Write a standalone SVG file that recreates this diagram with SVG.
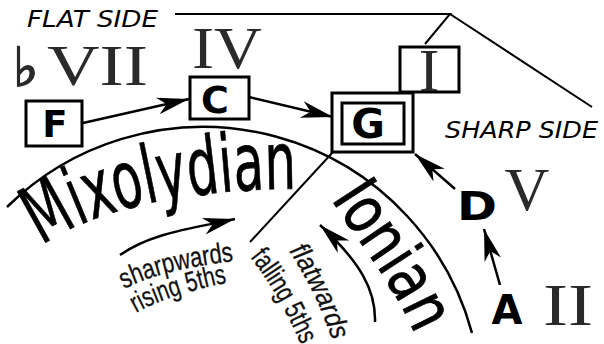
<svg xmlns="http://www.w3.org/2000/svg" width="604" height="344" viewBox="0 0 604 344">
<style>
.bx{fill:#fff;stroke:#000;stroke-width:3}
.ln{fill:none;stroke:#000;stroke-width:2.5}
.thin{fill:none;stroke:#000;stroke-width:2}
.arr{fill:none;stroke:#000;stroke-width:2.5;marker-end:url(#ah)}
.key{font-family:"DejaVu Sans",Verdana,sans-serif;font-weight:bold;fill:#000}
.rom{font-family:"Liberation Serif","Times New Roman",serif;fill:#2a2a2a}
.side{font-family:"DejaVu Sans","Liberation Sans",sans-serif;font-style:italic;font-size:23px;fill:#000}
.mode{font-family:"DejaVu Sans",sans-serif;fill:#000;stroke:#000;stroke-width:0.8}
.small{font-family:"Liberation Sans",Arial,sans-serif;font-size:28px;fill:#111;stroke:#111;stroke-width:0.3}
</style>
<defs>
<marker id="ah" viewBox="-34 -10 36 20" refX="0" refY="0" markerWidth="36" markerHeight="20" markerUnits="userSpaceOnUse" orient="auto">
<path d="M0,0 L-32,-8.5 L-23,0 L-32,8.5 Z" fill="#000"/>
</marker>
<path id="pMixo" d="M42,246 C106,200 222,188 304,189"/>
<path id="pIon" d="M331,199 C358,242 404,297 421,352"/>
<path id="pSharp" d="M124,289 C160,271 198,266 240,260"/>
<path id="pRise" d="M136,313 C162,298 200,288 231,282"/>
<path id="pFlat" d="M289,251 C309,281 324,313 336,352"/>
<path id="pFall" d="M250,257 C272,285 288,314 305,354"/>
</defs>
<rect width="604" height="344" fill="#fff"/>

<g id="connectors">
<path class="ln" d="M7,207 A279,279 0 0 1 472,333"/>
<path class="thin" d="M175,14 L450,14 L425,44 M450,14 L592,107"/>
<path class="thin" d="M333,152 L250,242"/>
<path class="arr" d="M83,123 L189,99"/>
<path class="arr" d="M249,97 L333,117"/>
<path class="arr" d="M455,189 L415,154"/>
<path class="arr" d="M500,285 L484,229"/>
<path class="arr" d="M120,255 C153,232 196,228 235,219"/>
<path class="arr" d="M375,322 C376,290 360,262 320,225"/>
</g>

<g id="node-F">
<rect class="bx" x="26" y="101" width="56" height="45"/>
<text class="key" x="55" y="137" font-size="37" text-anchor="middle">F</text>
</g>
<g id="node-C">
<rect class="bx" x="190" y="77" width="59" height="42"/>
<text class="key" x="215" y="113" font-size="38" text-anchor="middle">C</text>
</g>
<g id="node-G">
<rect class="bx" x="332" y="93" width="81" height="59"/>
<rect class="bx" x="342" y="103" width="62" height="41"/>
<text class="key" x="368" y="138" font-size="41" text-anchor="middle">G</text>
</g>
<g id="node-I">
<rect class="bx" x="400" y="47" width="59" height="45"/>
<text class="rom" x="429" y="91" font-size="62" text-anchor="middle">I</text>
</g>
<g id="node-D">
<text class="key" x="457" y="220" font-size="39" textLength="40" lengthAdjust="spacingAndGlyphs">D</text>
</g>
<g id="node-A">
<text class="key" x="507" y="324" font-size="40" text-anchor="middle">A</text>
</g>

<g id="labels">
<text class="side" x="27" y="27" textLength="131" lengthAdjust="spacingAndGlyphs">FLAT SIDE</text>
<text class="side" x="445" y="138" font-size="24" textLength="153" lengthAdjust="spacingAndGlyphs">SHARP SIDE</text>
<text class="rom" x="13" y="86" font-family="DejaVu Sans,sans-serif" font-size="54" font-weight="bold">♭</text>
<text class="rom" x="47" y="85" font-size="57" textLength="101" lengthAdjust="spacingAndGlyphs">VII</text>
<text class="rom" x="192" y="68" font-size="60" textLength="70" lengthAdjust="spacingAndGlyphs">IV</text>
<text class="rom" x="527" y="210" font-size="62" text-anchor="middle">V</text>
<text class="rom" x="543" y="325" font-size="60" textLength="50" lengthAdjust="spacingAndGlyphs">II</text>
<text class="mode" font-size="80"><textPath href="#pMixo" textLength="264" lengthAdjust="spacingAndGlyphs">Mixolydian</textPath></text>
<text class="mode" font-size="66"><textPath href="#pIon" textLength="160" lengthAdjust="spacingAndGlyphs">Ionian</textPath></text>
<text class="small"><textPath href="#pSharp" textLength="114" lengthAdjust="spacingAndGlyphs">sharpwards</textPath></text>
<text class="small"><textPath href="#pRise" textLength="96" lengthAdjust="spacingAndGlyphs">rising 5ths</textPath></text>
<text class="small" font-style="italic" font-size="26"><textPath href="#pFlat" textLength="100" lengthAdjust="spacingAndGlyphs">flatwards</textPath></text>
<text class="small" font-size="26"><textPath href="#pFall" textLength="102" lengthAdjust="spacingAndGlyphs">falling 5ths</textPath></text>
</g>
</svg>
